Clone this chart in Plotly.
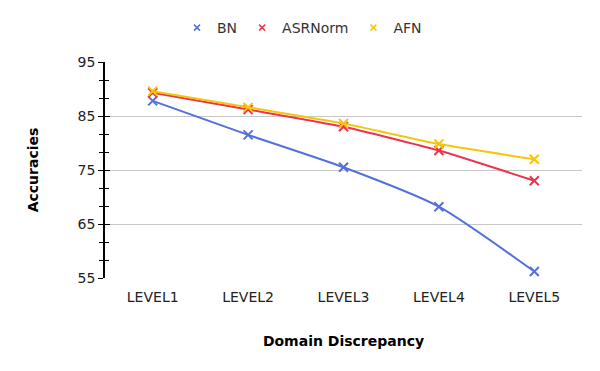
import plotly.graph_objects as go

levels = ["LEVEL1", "LEVEL2", "LEVEL3", "LEVEL4", "LEVEL5"]
bn = [87.8, 81.5, 75.5, 68.2, 56.2]
asrnorm = [89.3, 86.2, 83.0, 78.6, 73.0]
afn = [89.6, 86.6, 83.6, 79.8, 77.0]

series = [
    ("BN", bn, "#5470dc"),
    ("ASRNorm", asrnorm, "#e8364e"),
    ("AFN", afn, "#f5c60a"),
]

font = "DejaVu Sans"

fig = go.Figure()
for name, vals, color in series:
    fig.add_trace(
        go.Scatter(x=levels,
                   y=vals,
                   mode='lines+markers',
                   name=name,
                   showlegend=False,
                   line=dict(color=color, width=2, shape='spline', smoothing=0.6),
                   marker=dict(symbol='x-thin', size=9,
                               line=dict(color=color, width=2))))
    # legend entry: marker only
    fig.add_trace(
        go.Scatter(x=[None], y=[None], mode='markers', name=name,
                   marker=dict(symbol='x-thin', size=6,
                               line=dict(color=color, width=1.5))))

# invisible trace on overlay axis just to draw inner half of the ticks
fig.add_trace(go.Scatter(x=levels, y=bn, yaxis='y2', mode='none',
                         showlegend=False, hoverinfo='skip'))

fig.update_layout(
    width=600,
    height=371,
    paper_bgcolor='white',
    plot_bgcolor='white',
    margin=dict(l=97, r=26, t=54, b=101, autoexpand=False),
    font=dict(family=font, size=13, color='#222'),
    legend=dict(orientation='h', x=0.49, xref='container', xanchor='center',
                y=1 - 20 / 371, yref='container', yanchor='middle',
                font=dict(size=14, color='#333'), itemwidth=30),
    xaxis=dict(range=[-0.5, 4.5], showgrid=False, showline=False,
               ticks='', tickfont=dict(size=14), ticklabelstandoff=9,
               title=dict(text='<b>Domain Discrepancy</b>', standoff=32,
                          font=dict(size=14, color='black'))),
    yaxis=dict(range=[55, 95], tickvals=[55, 65, 75, 85, 95],
               showgrid=True, gridcolor='#c8c8c8', gridwidth=1,
               showline=True, linecolor='black', linewidth=1.5,
               ticks='outside', ticklen=5, tickcolor='black',
               tickfont=dict(size=14),
               minor=dict(dtick=10 / 3, tick0=55, ticks='outside',
                          ticklen=4, tickcolor='black', showgrid=False),
               zeroline=False,
               title=dict(text='<b>Accuracies</b>', standoff=36,
                          font=dict(size=14, color='black'))),
    yaxis2=dict(range=[55, 95], overlaying='y', side='left',
                anchor='x', tickvals=[55, 65, 75, 85, 95],
                ticks='inside', ticklen=5, tickcolor='black',
                showticklabels=False, showgrid=False, showline=False,
                minor=dict(dtick=10 / 3, tick0=55, ticks='inside',
                           ticklen=4, tickcolor='black', showgrid=False),
                zeroline=False),
)

fig.write_html("out.html")
